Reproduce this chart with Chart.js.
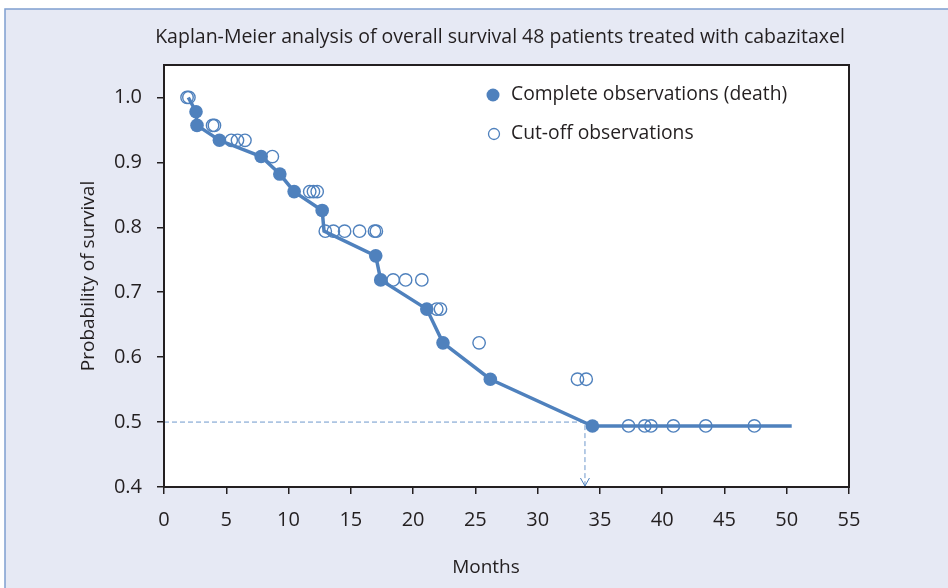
<!DOCTYPE html>
<html>
<head>
<meta charset="utf-8">
<script src="https://cdn.jsdelivr.net/npm/chart.js@4/dist/chart.umd.min.js"></script>
<style>
  body { margin: 0; background: #fff; }
</style>
</head>
<body>
<canvas id="km" width="948" height="588"></canvas>
<script>
// Kaplan-Meier curve (line through the death points)
const lineMonths = [1.95, 2.57, 2.65, 4.45, 7.8, 9.3, 10.45, 12.7, 12.85, 17.0, 17.4, 21.1, 22.4, 26.2, 34.4, 50.4];
const lineSurv = [1.0, 0.978, 0.957, 0.934, 0.909, 0.882, 0.855, 0.826, 0.794, 0.756, 0.719, 0.674, 0.622, 0.566, 0.494, 0.494];

// complete observations (death)
const deathMonths = [2.57, 2.65, 4.45, 7.8, 9.3, 10.45, 12.7, 17.0, 17.4, 21.1, 22.4, 26.2, 34.4];
const deathSurv = [0.978, 0.957, 0.934, 0.909, 0.882, 0.855, 0.826, 0.756, 0.719, 0.674, 0.622, 0.566, 0.494];

// cut-off observations (censored)
const censMonths = [1.85, 2.0, 3.9, 4.05, 5.4, 5.9, 6.5, 8.7, 11.7, 12.0, 12.3, 12.95, 13.6, 14.5, 15.7, 16.9, 17.05,
  18.4, 19.4, 20.7, 21.9, 22.2, 25.3, 33.2, 33.9, 37.3, 38.6, 39.1, 40.9, 43.5, 47.4];
const censSurv = [1.0, 1.0, 0.957, 0.957, 0.934, 0.934, 0.934, 0.909, 0.855, 0.855, 0.855, 0.794, 0.794, 0.794, 0.794, 0.794, 0.794,
  0.719, 0.719, 0.719, 0.674, 0.674, 0.622, 0.566, 0.566, 0.494, 0.494, 0.494, 0.494, 0.494, 0.494];

// median survival reference
const medianMonths = [0, 33.8, 33.8];
const medianSurv = [0.5, 0.5, 0.4];

const xTicks = [0, 5, 10, 15, 20, 25, 30, 35, 40, 45, 50, 55];
const yTicks = [0.4, 0.5, 0.6, 0.7, 0.8, 0.9, 1.0];

const blue = "#4f81bd";
const ink = "#231f20";
const fontFam = "'Open Sans', 'Noto Sans', sans-serif";

function pts(xs, ys) {
  return xs.map((x, i) => ({ x: x, y: ys[i] }));
}

// background, plot box, title, legend, x title and arrow head
const decor = {
  id: "decor",
  beforeDraw(chart) {
    const c = chart.ctx;
    const a = chart.chartArea;
    c.save();
    c.fillStyle = "#ffffff";
    c.fillRect(0, 0, chart.width, chart.height);
    c.fillStyle = "#e6e9f4";
    c.fillRect(5, 9, chart.width - 5, chart.height - 9);
    c.strokeStyle = "#7f9fcf";
    c.lineWidth = 1.5;
    c.beginPath();
    c.moveTo(5, chart.height);
    c.lineTo(5, 9);
    c.lineTo(chart.width, 9);
    c.stroke();
    c.fillStyle = "#ffffff";
    c.fillRect(a.left, a.top, a.right - a.left, a.bottom - a.top);
    c.restore();
  },
  afterDraw(chart) {
    const c = chart.ctx;
    const a = chart.chartArea;
    const xs = chart.scales.x;
    const ys = chart.scales.y;
    c.save();
    c.strokeStyle = ink;
    c.lineWidth = 2;
    c.strokeRect(a.left, a.top, a.right - a.left, a.bottom - a.top);

    // arrow head on the median drop line
    const ax = xs.getPixelForValue(medianMonths[2]);
    const ay = ys.getPixelForValue(medianSurv[2]);
    c.strokeStyle = blue;
    c.lineWidth = 1;
    c.beginPath();
    c.moveTo(ax - 4.5, ay - 9);
    c.lineTo(ax, ay - 1);
    c.lineTo(ax + 4.5, ay - 9);
    c.stroke();

    // title
    c.fillStyle = ink;
    c.font = "19.5px " + fontFam;
    c.textAlign = "center";
    c.textBaseline = "middle";
    c.fillText("Kaplan-Meier analysis of overall survival 48 patients treated with cabazitaxel", 500, 37);

    // x axis title
    c.font = "19px " + fontFam;
    c.fillText("Months", 486, 568);

    // legend
    c.font = "19.3px " + fontFam;
    c.textAlign = "left";
    c.fillStyle = blue;
    c.beginPath();
    c.arc(493, 95, 6.5, 0, Math.PI * 2);
    c.fill();
    c.strokeStyle = blue;
    c.lineWidth = 1.3;
    c.beginPath();
    c.arc(494, 134, 5.5, 0, Math.PI * 2);
    c.stroke();
    c.fillStyle = ink;
    c.fillText("Complete observations (death)", 511, 95);
    c.fillText("Cut-off observations", 511, 134);
    c.restore();
  }
};

new Chart(document.getElementById("km").getContext("2d"), {
  type: "scatter",
  data: {
    datasets: [
      {
        label: "Cut-off observations",
        data: pts(censMonths, censSurv),
        pointRadius: 6.2,
        pointBorderWidth: 1.4,
        pointBorderColor: blue,
        pointBackgroundColor: "rgba(0,0,0,0)",
      },
      {
        label: "Complete observations (death)",
        data: pts(deathMonths, deathSurv),
        pointRadius: 6.8,
        pointBorderWidth: 0,
        pointBackgroundColor: blue,
      },
      {
        type: "line",
        label: "Survival",
        data: pts(lineMonths, lineSurv),
        borderColor: blue,
        borderWidth: 3.5,
        pointRadius: 0,
        tension: 0,
      },
      {
        type: "line",
        label: "Median",
        data: pts(medianMonths, medianSurv),
        borderColor: "#6f98cc",
        borderWidth: 1,
        borderDash: [5, 3],
        pointRadius: 0,
        tension: 0,
      },
    ],
  },
  options: {
    responsive: false,
    animation: false,
    layout: { padding: { top: 65, right: 99, left: 0, bottom: 0 } },
    plugins: {
      legend: { display: false },
      tooltip: { enabled: false },
    },
    scales: {
      x: {
        type: "linear",
        min: 0,
        max: 55,
        afterBuildTicks: (s) => { s.ticks = xTicks.map((v) => ({ value: v })); },
        afterFit: (s) => { s.height = 101; },
        grid: { drawOnChartArea: false, drawTicks: true, tickLength: 7, color: ink, lineWidth: 1.5 },
        border: { color: ink, width: 2 },
        ticks: { color: ink, padding: 14, font: { family: fontFam, size: 20 } },
      },
      y: {
        type: "linear",
        min: 0.4,
        max: 1.05,
        afterBuildTicks: (s) => { s.ticks = yTicks.map((v) => ({ value: v })); },
        afterFit: (s) => { s.width = 164; },
        grid: { drawOnChartArea: false, drawTicks: true, tickLength: 7, color: ink, lineWidth: 1.5 },
        border: { color: ink, width: 2 },
        ticks: {
          color: ink,
          padding: 15,
          font: { family: fontFam, size: 20 },
          callback: (v) => v.toFixed(1),
        },
        title: {
          display: true,
          text: "Probability of survival",
          color: ink,
          font: { family: fontFam, size: 19 },
          padding: { top: 77, bottom: 0 },
        },
      },
    },
  },
  plugins: [decor],
});
</script>
</body>
</html>
